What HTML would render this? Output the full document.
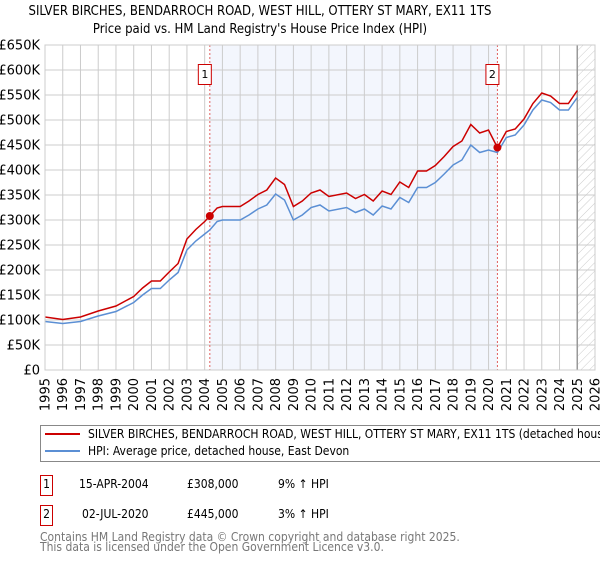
<!DOCTYPE html>
<html><head><meta charset="utf-8"><style>
body{margin:0;background:#fff;}
svg text{font-family:"DejaVu Sans","Liberation Sans",sans-serif;}
svg text.c{font-family:"DejaVu Sans Condensed","DejaVu Sans","Liberation Sans",sans-serif;font-stretch:condensed;}
</style></head><body>
<svg id="chart" width="600" height="560" xmlns="http://www.w3.org/2000/svg">
<defs><pattern id="hatch" width="6" height="6" patternUnits="userSpaceOnUse" patternTransform="rotate(45)"><line x1="0" y1="0" x2="0" y2="6" stroke="#ccc" stroke-width="1"/></pattern></defs>
<text class="c" x="260" y="15" text-anchor="middle" font-size="13" fill="#000">SILVER BIRCHES, BENDARROCH ROAD, WEST HILL, OTTERY ST MARY, EX11 1TS</text>
<text class="c" x="260" y="33" text-anchor="middle" font-size="13" fill="#000">Price paid vs. HM Land Registry's House Price Index (HPI)</text>
<g id="plot"></g>
<g>
<rect x="40.5" y="425.5" width="570" height="36" fill="#fff" stroke="#888"/>
<line x1="45" y1="434" x2="80" y2="434" stroke="#cc0000" stroke-width="2"/>
<text class="c" x="88" y="438" font-size="12">SILVER BIRCHES, BENDARROCH ROAD, WEST HILL, OTTERY ST MARY, EX11 1TS (detached house)</text>
<line x1="45" y1="451" x2="80" y2="451" stroke="#5b8fd4" stroke-width="2"/>
<text class="c" x="88" y="455" font-size="12">HPI: Average price, detached house, East Devon</text>
</g>
<g>
<rect x="40.5" y="475.5" width="12" height="20" fill="#fff" stroke="#cc0000"/>
<text class="c" x="46.5" y="488" text-anchor="middle" font-size="12">1</text>
<text class="c" x="79" y="488" font-size="12">15-APR-2004</text>
<text class="c" x="187" y="488" font-size="12">£308,000</text>
<text class="c" x="278" y="488" font-size="12">9% ↑ HPI</text>
<rect x="40.5" y="505.5" width="12" height="20" fill="#fff" stroke="#cc0000"/>
<text class="c" x="46.5" y="518" text-anchor="middle" font-size="12">2</text>
<text class="c" x="82" y="518" font-size="12">02-JUL-2020</text>
<text class="c" x="187" y="518" font-size="12">£445,000</text>
<text class="c" x="278" y="518" font-size="12">3% ↑ HPI</text>
</g>
<text class="c" x="40" y="541" font-size="12" fill="#777">Contains HM Land Registry data © Crown copyright and database right 2025.</text>
<text class="c" x="40" y="551" font-size="12" fill="#777">This data is licensed under the Open Government Licence v3.0.</text>
</svg>
<script>
const years=[1995,1996,1997,1998,1999,2000,2000.5,2001,2001.5,2002,2002.5,2003,2003.5,2004,2004.29,2004.7,2005,2006,2006.5,2007,2007.5,2008,2008.5,2009,2009.5,2010,2010.5,2011,2012,2012.5,2013,2013.5,2014,2014.5,2015,2015.5,2016,2016.5,2017,2017.5,2018,2018.5,2019,2019.5,2020,2020.5,2021,2021.5,2022,2022.5,2023,2023.5,2024,2024.5,2025];
const hpiValues=[97,93,97,108,117,135,150,163,163,180,195,240,258,272,280,297,300,300,310,322,330,352,340,300,310,325,330,318,325,315,322,310,328,322,345,335,365,365,375,392,410,420,450,435,440,435,465,470,490,520,540,535,520,520,545];
const propertyValues=[106,101,106,118,128,147,164,178,178,196,213,262,281,297,308,324,327,327,338,351,360,384,371,327,338,354,360,347,354,343,351,338,358,351,376,365,398,398,409,427,447,458,491,474,480,445,477,482,502,533,554,548,533,533,559];
const saleYears=[2004.29,2020.5];
const salePrices=[308,445];
const saleLabels=["1","2"];
const yTicks=[0,50,100,150,200,250,300,350,400,450,500,550,600,650];
const xTickYears=[1995,1996,1997,1998,1999,2000,2001,2002,2003,2004,2005,2006,2007,2008,2009,2010,2011,2012,2013,2014,2015,2016,2017,2018,2019,2020,2021,2022,2023,2024,2025,2026];
const dataEnd=2025.0;

const X0=45,X1=595,Y0=370,Y1=45;
const xs=y=>X0+(y-1995)/(2026-1995)*(X1-X0);
const ys=v=>Y0-v/650*(Y0-Y1);
const NS="http://www.w3.org/2000/svg";
const g=document.getElementById('plot');
function mk(t,a){const e=document.createElementNS(NS,t);for(const k in a)e.setAttribute(k,a[k]);g.appendChild(e);return e;}

let r=mk('rect',{x:xs(saleYears[0]),y:Y1,width:xs(saleYears[1])-xs(saleYears[0]),height:Y0-Y1,fill:'#f3f6fd'});


r=mk('rect',{x:xs(dataEnd),y:Y1,width:X1-xs(dataEnd),height:Y0-Y1,fill:'url(#hatch)'});



yTicks.forEach(v=>{
  const l=mk('line',{x1:X0,x2:X1,y1:ys(v),y2:ys(v),stroke:'#ccc','stroke-width':1});
  
  
  const t=mk('text',{x:40,y:ys(v)+4.5,'text-anchor':'end','font-size':13});
  t.textContent=v===0?'£0':'£'+v+'K';
  
  
});
xTickYears.forEach(yr=>{
  const l=mk('line',{x1:xs(yr),x2:xs(yr),y1:Y1,y2:Y0,stroke:'#ccc','stroke-width':1});
  
  
  const t=mk('text',{x:0,y:0,'text-anchor':'end','font-size':13,transform:`translate(${xs(yr)+4.5},378) rotate(-90)`});
  t.textContent=yr;
  
  
});
let vl=mk('line',{x1:xs(dataEnd),x2:xs(dataEnd),y1:Y1,y2:Y0,stroke:'#999','stroke-width':1.5});



saleYears.forEach((yr,i)=>{
  const l=mk('line',{x1:xs(yr),x2:xs(yr),y1:Y1,y2:Y0,stroke:'#e06060','stroke-width':1,'stroke-dasharray':'2,2'});
  
  
});

const path=(vals)=>vals.map((v,i)=>(i?'L':'M')+xs(years[i]).toFixed(1)+','+ys(v).toFixed(1)).join('');
let p=mk('path',{d:path(hpiValues),fill:'none',stroke:'#5b8fd4','stroke-width':1.5});


p=mk('path',{d:path(propertyValues),fill:'none',stroke:'#cc0000','stroke-width':1.5});



saleYears.forEach((yr,i)=>{
  const c=mk('circle',{cx:xs(yr),cy:ys(salePrices[i]),r:4,fill:'#cc0000'});
  
  
  const b=mk('rect',{x:xs(yr)-11.5,y:64.5,width:13,height:20,fill:'#fff',stroke:'#cc0000'});
  
  
  const t=mk('text',{x:xs(yr)-5,y:78,'text-anchor':'middle','font-size':11});
  t.textContent=saleLabels[i];
  
  
});
let fr=mk('rect',{x:X0,y:Y1,width:X1-X0,height:Y0-Y1,fill:'none',stroke:'#ccc'});


</script>
</body></html>
